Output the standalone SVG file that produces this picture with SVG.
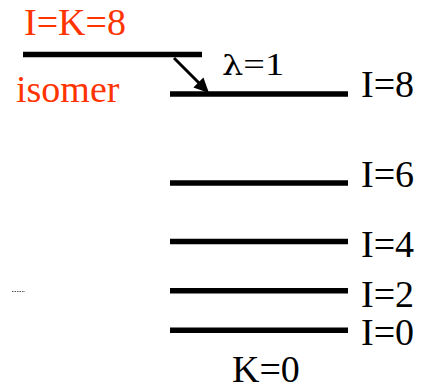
<svg xmlns="http://www.w3.org/2000/svg" width="424" height="387" viewBox="0 0 424 387">
  <style>
    .lvl { stroke: #000; stroke-width: 5.5; fill: none; }
    .lab { font-family: 'Liberation Serif', serif; font-size: 38px; fill: #000; }
    .red { fill: #ff3300; }
    .conn { stroke: #000; stroke-width: 3; fill: none; }
  </style>
  <rect width="424" height="387" fill="#fff"/>

  <g id="isomer">
    <line class="lvl" x1="23" y1="54.5" x2="202" y2="54.5"/>
    <text class="lab red" x="24" y="35">I=K=8</text>
    <text class="lab red" x="16" y="102">isomer</text>
  </g>

  <g id="level-I8">
    <line class="lvl" x1="170" y1="94" x2="348" y2="94"/>
    <text class="lab" x="361" y="97">I=8</text>
  </g>
  <g id="level-I6">
    <line class="lvl" x1="170" y1="183" x2="348" y2="183"/>
    <text class="lab" x="361" y="187">I=6</text>
  </g>
  <g id="level-I4">
    <line class="lvl" x1="170" y1="241.5" x2="348" y2="241.5"/>
    <text class="lab" x="361" y="257">I=4</text>
  </g>
  <g id="level-I2">
    <line class="lvl" x1="170" y1="290.7" x2="348" y2="290.7"/>
    <text class="lab" x="361" y="307">I=2</text>
  </g>
  <g id="level-I0">
    <line class="lvl" x1="170" y1="330.3" x2="348" y2="330.3"/>
    <text class="lab" x="361" y="345">I=0</text>
  </g>
  <g id="band-label">
    <text class="lab" x="232" y="382">K=0</text>
  </g>

  <g id="connectors">
    <line class="conn" x1="174" y1="58" x2="199" y2="83"/>
    <path d="M209,93 L193.4,87.4 L203.4,77.4 Z" fill="#000"/>
    <text class="lab" transform="translate(222,75) scale(1.2,1)" x="0" y="0" style="font-size:32px"><tspan style="font-family:'DejaVu Serif',serif;font-size:28px">λ</tspan>=1</text>
  </g>

  <g id="mark">
    <line x1="12" y1="291.5" x2="25" y2="291.5" stroke="#555" stroke-width="1" stroke-dasharray="1.5,1"/>
  </g>
</svg>
